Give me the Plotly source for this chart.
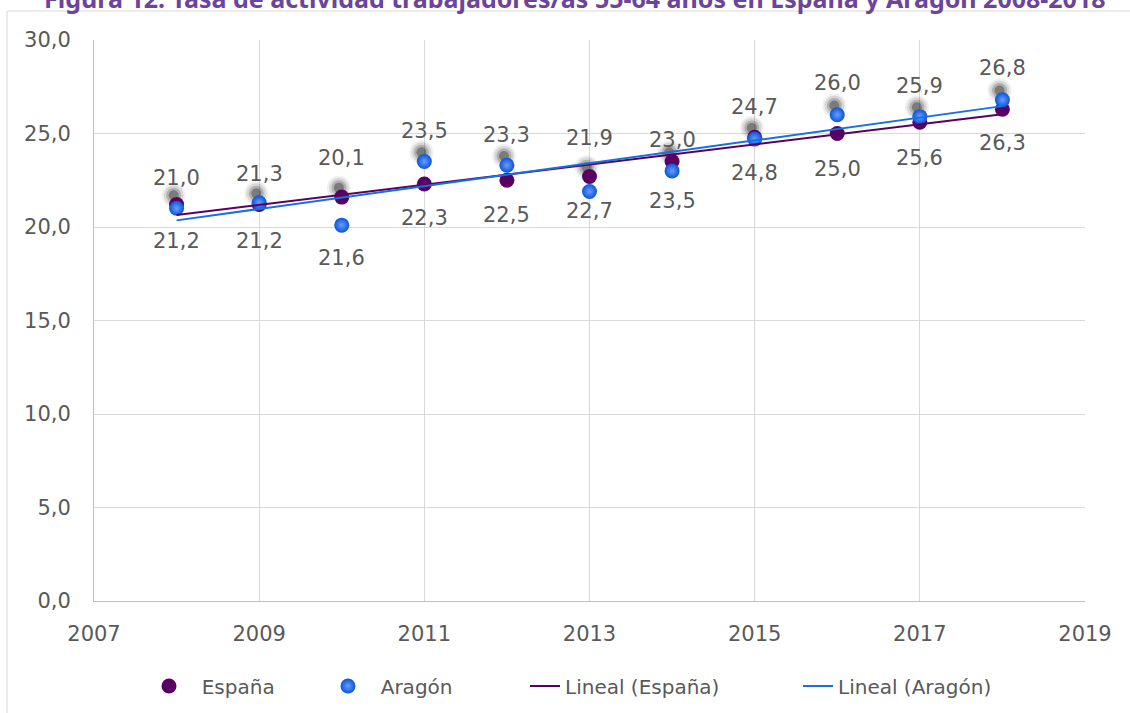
import numpy as np
import plotly.graph_objects as go

years = [2008, 2009, 2010, 2011, 2012, 2013, 2014, 2015, 2016, 2017, 2018]
espana = [21.2, 21.2, 21.6, 22.3, 22.5, 22.7, 23.5, 24.8, 25.0, 25.6, 26.3]
aragon = [21.0, 21.3, 20.1, 23.5, 23.3, 21.9, 23.0, 24.7, 26.0, 25.9, 26.8]
x_ticks = [2007, 2009, 2011, 2013, 2015, 2017, 2019]
y_ticks = [0, 5, 10, 15, 20, 25, 30]

# label offsets in pixels (style)
esp_label_shift = [36, 36, 61, 34, 35, 34, 39, 36, 35, 36, 34]
ara_label_shift = [30, 29, 67, 31, 30, 53, 31, 32, 32, 31, 32]

PURPLE = "#5a0063"
BLUE = "#0a55d6"
TXT = "#595959"
FONT = "DejaVu Sans"
NB = "\u00a0"

W, H = 1130, 713
ML, MR, MT, MB = 94, 45, 40, 112
PW, PH = W - ML - MR, H - MT - MB


def px_x(p):
    return (p - ML) / PW


def px_y(p):
    return (H - MB - p) / PH


def fmt(v):
    return f"{v:.1f}".replace(".", ",")


fig = go.Figure()

# shadows behind the upper marker of each year
top = [max(a, b) for a, b in zip(espana, aragon)]
sx = [y - 0.035 for y in years]
sy = [t + 0.5 for t in top]
for size, alpha in [(24, 0.06), (20, 0.10), (15, 0.18), (10, 0.30)]:
    fig.add_trace(go.Scatter(x=sx, y=sy, mode="markers", showlegend=False, hoverinfo="skip",
                             marker=dict(size=size, color=f"rgba(0,0,0,{alpha})", line=dict(width=0))))

fig.add_trace(go.Scatter(x=years, y=espana, mode="markers", name=NB * 2 + "España", legend="legend",
                         marker=dict(size=15, color=PURPLE, line=dict(width=0))))
fig.add_trace(go.Scatter(x=years, y=aragon, mode="markers", name=NB * 2 + "Aragón", legend="legend2",
                         marker=dict(size=15, color=BLUE, line=dict(width=0),
                                     gradient=dict(type="radial", color="#6a9cff"))))

xs = np.array(years, dtype=float)
pe = np.polyfit(xs, np.array(espana), 1)
pa = np.polyfit(xs, np.array(aragon), 1)
xl = [years[0], years[-1]]
fig.add_trace(go.Scatter(x=xl, y=list(np.polyval(pe, xl)), mode="lines", name="Lineal (España)",
                         legend="legend3", line=dict(color=PURPLE, width=2)))
fig.add_trace(go.Scatter(x=xl, y=list(np.polyval(pa, xl)), mode="lines", name="Lineal (Aragón)",
                         legend="legend4", line=dict(color="#1670e0", width=2)))

ann = []
for yr, v, s in zip(years, espana, esp_label_shift):
    ann.append(dict(x=yr, y=v, text=fmt(v), showarrow=False, yshift=-s,
                    font=dict(family=FONT, size=21, color=TXT)))
for yr, v, s in zip(years, aragon, ara_label_shift):
    ann.append(dict(x=yr, y=v, text=fmt(v), showarrow=False, yshift=s,
                    font=dict(family=FONT, size=21, color=TXT)))

ann.append(dict(xref="paper", yref="paper", x=px_x(575), y=px_y(-2.5), yanchor="middle",
                text="Figura 12: Tasa de actividad trabajadores/as 55-64 años en España y Aragón 2008-2018",
                showarrow=False, font=dict(family="Noto Sans", size=25, color="#6b449b", weight="bold")))

leg_common = dict(orientation="h", yanchor="middle", y=px_y(686), xanchor="left",
                  font=dict(family=FONT, size=20, color=TXT), bgcolor="rgba(0,0,0,0)")

fig.update_layout(
    width=W, height=H,
    margin=dict(l=ML, r=MR, t=MT, b=MB, autoexpand=False),
    paper_bgcolor="white", plot_bgcolor="white",
    font=dict(family=FONT, size=20, color=TXT),
    annotations=ann,
    showlegend=True,
    legend=dict(x=px_x(149), **leg_common),
    legend2=dict(x=px_x(328), **leg_common),
    legend3=dict(x=px_x(525), **leg_common),
    legend4=dict(x=px_x(798), **leg_common),
    shapes=[dict(type="rect", xref="paper", yref="paper", x0=px_x(7), x1=px_x(1145),
                 y0=px_y(730), y1=px_y(11),
                 line=dict(color="#d9d9d9", width=1), layer="below")],
)
fig.update_xaxes(range=[2007, 2019], tickvals=x_ticks, ticktext=[str(t) for t in x_ticks],
                 showgrid=True, gridcolor="#d9d9d9", gridwidth=1,
                 showline=True, linecolor="#bfbfbf", linewidth=1,
                 zeroline=False, ticks="", ticklabelstandoff=14,
                 tickfont=dict(family=FONT, size=21, color=TXT))
fig.update_yaxes(range=[0, 30], tickvals=y_ticks, ticktext=[fmt(t) for t in y_ticks],
                 showgrid=True, gridcolor="#d9d9d9", gridwidth=1,
                 showline=True, linecolor="#bfbfbf", linewidth=1,
                 zeroline=False, ticks="", ticklabelstandoff=18,
                 tickfont=dict(family=FONT, size=21, color=TXT))

fig.write_html("out.html", config={"displayModeBar": False},
               post_script="document.body.style.margin='0';")
